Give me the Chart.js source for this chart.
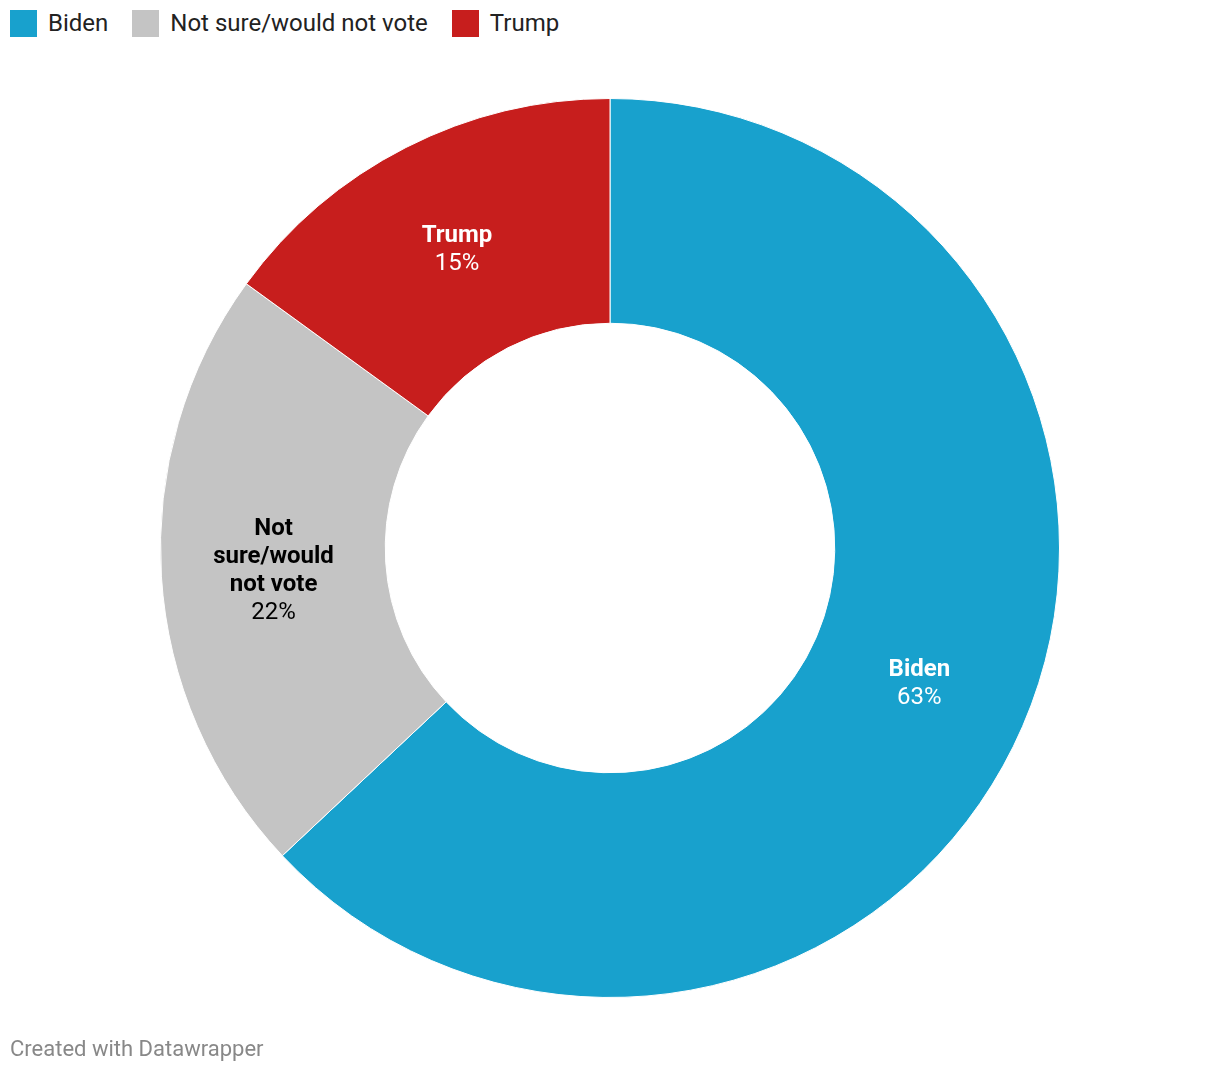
<!DOCTYPE html>
<html>
<head>
<meta charset="utf-8">
<script src="https://cdn.jsdelivr.net/npm/chart.js@4"></script>
<style>
  body { margin: 0; background: #fff; font-family: Roboto, sans-serif; }
  #wrap { position: relative; width: 1220px; height: 1074px; }
  #legend { position: absolute; left: 10px; top: 10px; display: flex; font-size: 24px; color: #222; line-height: 27px; }
  #legend .item { display: flex; align-items: center; margin-right: 24px; }
  #legend .box { width: 27px; height: 27px; margin-right: 11px; }
  #footer { position: absolute; left: 10px; top: 1036px; font-size: 22px; color: #888; }
  canvas { position: absolute; left: 0; top: 0; }
</style>
</head>
<body>
<div id="wrap">
  <div id="legend"></div>
  <canvas id="donut" width="1220" height="1074"></canvas>
  <div id="footer">Created with Datawrapper</div>
</div>
<script>
const categories = ['Biden', 'Not sure/would not vote', 'Trump'];
const shares = [63, 22, 15];
const colors = ['#18a1cd', '#c4c4c4', '#c71e1d'];
const labelColors = ['#fff', '#000', '#fff'];

// legend
const legend = document.getElementById('legend');
categories.forEach((c, i) => {
  const item = document.createElement('div');
  item.className = 'item';
  item.innerHTML = '<span class="box" style="background:' + colors[i] + '"></span>' + c;
  legend.appendChild(item);
});

function wrap(ctx, text, maxW) {
  const words = text.split(' ');
  const lines = [];
  let line = '';
  words.forEach(w => {
    const test = line ? line + ' ' + w : w;
    if (line && ctx.measureText(test).width > maxW) {
      lines.push(line);
      line = w;
    } else {
      line = test;
    }
  });
  lines.push(line);
  return lines;
}

const sliceLabels = {
  id: 'sliceLabels',
  afterDatasetsDraw(chart) {
    const ctx = chart.ctx;
    const meta = chart.getDatasetMeta(0);
    ctx.save();
    ctx.textAlign = 'center';
    ctx.textBaseline = 'middle';
    meta.data.forEach((arc, i) => {
      const p = arc.getCenterPoint();
      ctx.font = 'bold 24px Roboto';
      const lines = wrap(ctx, categories[i], 140);
      const lh = 28;
      const total = (lines.length + 1) * lh;
      let y = p.y - total / 2 + lh / 2 + 2;
      ctx.fillStyle = labelColors[i];
      lines.forEach(l => { ctx.fillText(l, p.x, y); y += lh; });
      ctx.font = '24px Roboto';
      ctx.fillText(shares[i] + '%', p.x, y);
    });
    ctx.restore();
  }
};

new Chart(document.getElementById('donut'), {
  type: 'doughnut',
  data: {
    labels: categories,
    datasets: [{
      data: shares,
      backgroundColor: colors,
      borderColor: '#fff',
      borderWidth: 1
    }]
  },
  options: {
    responsive: false,
    animation: false,
    cutout: '50%',
    layout: { padding: { top: 98, bottom: 76 } },
    plugins: {
      legend: { display: false },
      tooltip: { enabled: false }
    }
  },
  plugins: [sliceLabels]
});
</script>
</body>
</html>
